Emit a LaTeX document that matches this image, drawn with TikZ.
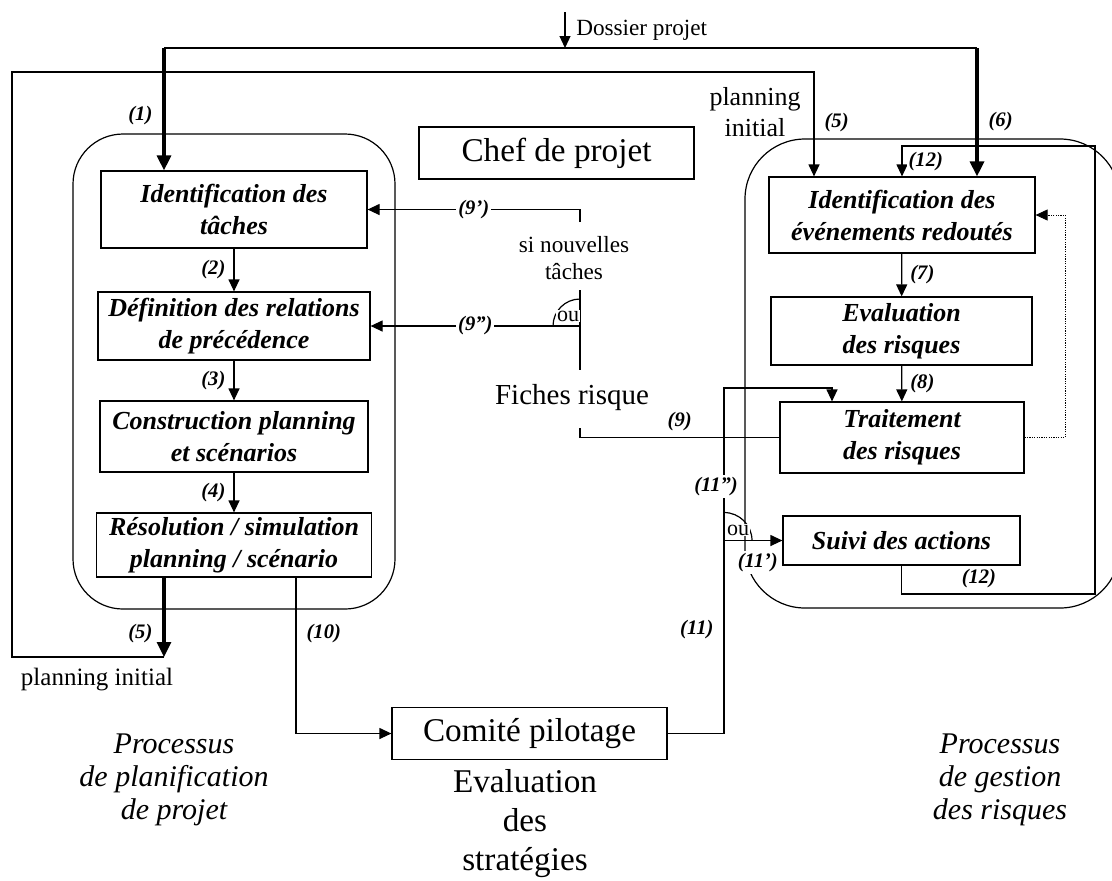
\documentclass[tikz,border=0pt]{standalone}
\usepackage{fontspec}
\setmainfont{Liberation Serif}
\usepackage{tikz}
\usetikzlibrary{arrows.meta}

\begin{document}
\begin{tikzpicture}[x=0.5pt, y=0.5pt, line width=0.6pt,
    etape/.style={draw, align=center, inner sep=1pt, font=\fontsize{13}{16}\selectfont\bfseries\itshape},
    acteur/.style={draw, minimum width=137.5pt, minimum height=26pt, font=\fontsize{16.6}{20}\selectfont},
    num/.style={fill=white, inner sep=1pt, font=\fontsize{10.3}{12}\selectfont\bfseries\itshape},
    ou/.style={fill=white, inner sep=0.5pt, font=\fontsize{11}{12}\selectfont},
    fleche/.style={-{Triangle[length=6pt,width=5.5pt]}},
    grosse/.style={line width=1.6pt, -{Triangle[length=7.5pt,width=7pt]}},
    pointille/.style={line width=0.4pt, dash pattern=on 0.6pt off 0.6pt, -{Triangle[length=6pt,width=5.5pt]}}]
    \useasboundingbox (0,0) rectangle (1112,-880);

    \draw[rounded corners=25pt] (73,-134) rectangle (395,-609);
    \draw[rounded corners=30pt] (745,-139) rectangle (1120,-608);

    \node[etape, minimum width=133pt, minimum height=38.5pt] (t1) at (234,-209.5) {Identification des\\tâches};
    \node[etape, minimum width=136pt, minimum height=34pt] (t2) at (234,-326) {Définition des relations\\de précédence};
    \node[etape, minimum width=134pt, minimum height=35.5pt] (t3) at (234,-436.5) {Construction planning\\et scénarios};
    \node[etape, minimum width=137.5pt, minimum height=32pt] (t4) at (234,-545) {Résolution / simulation\\planning / scénario};

    \node[etape, minimum width=133pt, minimum height=38pt] (r1) at (902,-215) {Identification des\\événements redoutés};
    \node[etape, minimum width=130.5pt, minimum height=34pt] (r2) at (901.5,-331) {Evaluation\\des risques};
    \node[etape, minimum width=122pt, minimum height=35.5pt] (r3) at (902,-437.5) {Traitement\\des risques};
    \node[etape, minimum width=118.5pt, minimum height=24.5pt] (r4) at (901.5,-540.5) {Suivi des actions};

    \node[acteur] (chef) at (556.5,-153) {Chef de projet};
    \node[acteur] (comite) at (529.5,-733.5) {Comité pilotage};

    \node[align=center, font=\fontsize{11.6}{13.5}\selectfont] (si) at (574,-258) {si nouvelles\\tâches};
    \node[font=\fontsize{14.5}{17}\selectfont] (fiches) at (572,-398) {Fiches risque};
    \node[font=\fontsize{12.5}{15}\selectfont] (pinit) at (97,-680) {planning initial};
    \node[align=center, font=\fontsize{13}{15.5}\selectfont] (pinit2) at (755,-112) {planning\\initial};
    \node[align=center, font=\fontsize{15}{16.5}\selectfont\itshape] (procg) at (174,-780) {Processus\\de planification\\de projet};
    \node[align=center, font=\fontsize{15}{16.5}\selectfont\itshape] (procd) at (1000,-780) {Processus\\de gestion\\des risques};
    \node[align=center, font=\fontsize{16.6}{19.5}\selectfont] (eval) at (525,-824) {Evaluation\\des\\stratégies};

    \coordinate (dp) at (565,-12);
    \coordinate (h1) at (164,-48);
    \coordinate (h2) at (977,-48);
    \coordinate (pi) at (164,-657);
    \coordinate (g) at (12,-72);
    \coordinate (pl) at (814,-72);
    \coordinate (b1) at (580,-222);
    \coordinate (b2) at (580,-290);
    \coordinate (b3) at (580,-370);
    \coordinate (b4) at (580,-428);
    \coordinate (c10) at (296,-600);
    \coordinate (c11) at (724,-388);
    \coordinate (c11b) at (832,-388);
    \coordinate (c12) at (1095,-594);
    \coordinate (c12t) at (1095,-146);
    \coordinate (pt) at (1065,-300);

    \draw[fleche] (dp) -- (dp |- h1) node[midway, right, xshift=2pt, font=\fontsize{11.6}{13}\selectfont] {Dossier projet};
    \draw (h1) -- (h2);
    \draw[grosse] (h1) -- (t1.north -| h1) node[pos=0.55, left=4pt, num] {(1)};
    \draw[grosse] (h2) -- (r1.north -| h2) node[pos=0.57, right=4pt, num] {(6)};

    \draw[fleche] (t1) -- (t2) node[midway, left=3pt, num] {(2)};
    \draw[fleche] (t2) -- (t3) node[midway, left=3pt, num] {(3)};
    \draw[fleche] (t3) -- (t4) node[midway, left=3pt, num] {(4)};
    \draw[fleche] (r1) -- (r2) node[midway, right=3pt, num] {(7)};
    \draw[fleche] (r2) -- (r3) node[midway, right=3pt, num] {(8)};

    \draw[grosse] (t4.south -| pi) -- (pi) node[pos=0.7, left=4pt, num] {(5)};
    \draw[fleche] (pi) -| (g) -| (pl |- r1.north) node[pos=0.74, right=4pt, num] {(5)};

    \draw[fleche] (b1) |- (t1.east) node[pos=0.75, num] {(9')};
    \draw (b2) -- (b3);
    \draw[fleche] (t2.east -| b2) -- (t2.east) node[midway, num] {(9'')};
    \draw (t2.east -| b2) ++(-27,0) arc (180:90:27);
    \node[ou] (ou1) at (568,-316) {ou};
    \draw (b4) |- (r3.west) node[pos=0.75, above=2pt, num] {(9)};

    \draw[fleche] (t4.south -| c10) |- (comite.west) node[pos=0.18, right=4pt, num] {(10)};
    \draw[fleche] (comite.east) -| (c11) node[pos=0.65, left=4pt, num] {(11)} node[pos=0.857, xshift=-4pt, num] {(11'')} -- (c11b) -- (r3.north -| c11b);
    \draw[fleche] (r4.west -| c11) -- (r4.west) node[pos=1, anchor=north east, xshift=-1pt, yshift=-5pt, num] {(11')};
    \draw (r4.west -| c11) ++(0,28) arc (90:0:28);
    \node[ou] (ou2) at (738,-530) {ou};

    \draw[fleche] (r4.south) |- (c12) node[pos=0.7, above=2pt, num] {(12)} -- (c12t) -| (r1.north) node[pos=0.75, right=2pt, num] {(12)};
    \draw[pointille] (r3.east) -| (pt) |- (r1.east);
\end{tikzpicture}
\end{document}
